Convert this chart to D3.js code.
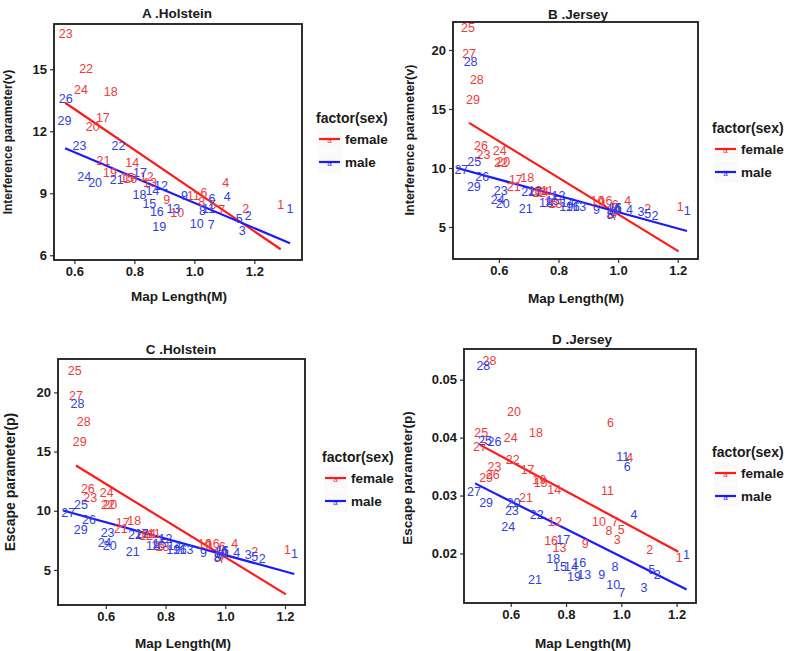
<!DOCTYPE html>
<html><head><meta charset="utf-8">
<script src="https://cdn.jsdelivr.net/npm/d3@7"></script>
<style>body{margin:0;background:#fff}svg{display:block}text{font-family:"Liberation Sans",Arial,sans-serif}</style>
</head><body>
<svg id="chart" width="787" height="651"></svg>
<script>
// ---------- DATA ----------
const xTicks = [0.6, 0.8, 1.0, 1.2];
const yTicksA = [6, 9, 12, 15];
const yTicksBC = [5, 10, 15, 20];
const yTicksD = [0.02, 0.03, 0.04, 0.05];

// Panel A (Holstein, interference) : [label, map length, value]
const femaleA = [["23",0.571,16.69],["22",0.639,15.0],["24",0.622,14.0],["18",0.721,13.9],["17",0.695,12.66],["20",0.661,12.22],
  ["21",0.697,10.56],["14",0.793,10.45],["19",0.719,9.97],["15",0.776,9.72],["16",0.786,9.68],["12",0.841,9.80],["13",0.852,9.48],
  ["9",0.908,8.68],["10",0.943,8.06],["11",0.997,8.87],["6",1.032,9.03],["8",1.025,8.6],["5",1.062,8.45],["7",1.091,8.19],
  ["4",1.105,9.51],["2",1.171,8.23],["1",1.288,8.43]];
const maleA = [["26",0.571,13.56],["29",0.567,12.5],["23",0.617,11.3],["22",0.747,11.3],["24",0.633,9.80],["20",0.669,9.48],
  ["21",0.741,9.64],["17",0.819,9.97],["14",0.86,9.13],["12",0.889,9.35],["18",0.817,8.92],["15",0.85,8.48],["16",0.875,8.08],
  ["19",0.883,7.36],["13",0.93,8.23],["9",0.967,8.87],["10",1.008,7.50],["7",1.056,7.47],["8",1.027,8.14],["11",1.047,8.23],
  ["6",1.059,8.71],["5",1.15,7.74],["3",1.16,7.18],["4",1.11,8.81],["2",1.18,7.90],["1",1.319,8.23]];
const fitFemaleA = [[0.569,13.38],[1.288,6.29]];
const fitMaleA = [[0.569,11.18],[1.319,6.58]];

// Panels B and C (Jersey)
const femaleBC = [["25",0.496,21.84],["27",0.500,19.66],["28",0.526,17.49],["29",0.513,15.80],["26",0.540,11.85],["23",0.548,11.12],
  ["24",0.603,11.48],["22",0.607,10.45],["20",0.615,10.48],["17",0.657,8.97],["18",0.695,9.14],["21",0.650,8.43],["19",0.722,8.05],
  ["14",0.745,8.0],["11",0.762,8.05],["12",0.735,7.85],["15",0.775,7.0],["13",0.79,6.95],["16",0.958,7.23],["10",0.931,7.23],
  ["9",0.945,7.0],["4",1.032,7.2],["6",0.99,6.9],["5",1.0,6.6],["3",0.985,6.3],["7",0.99,5.95],["8",0.975,6.1],["2",1.099,6.55],["1",1.208,6.72]];
const maleBC = [["28",0.505,19.02],["25",0.517,10.5],["27",0.474,9.84],["26",0.544,9.22],["29",0.516,8.37],["23",0.606,8.08],
  ["24",0.596,7.3],["20",0.613,6.99],["21",0.69,6.5],["22",0.698,7.98],["17",0.72,8.0],["18",0.758,7.05],["15",0.78,7.2],
  ["19",0.826,6.7],["16",0.848,6.7],["13",0.87,6.7],["12",0.80,7.6],["14",0.83,7.0],["11",0.99,6.6],["10",0.985,6.4],["9",0.927,6.45],
  ["8",0.973,6.0],["7",0.985,6.1],["6",1.0,6.6],["4",1.038,6.4],["3",1.077,6.27],["5",1.099,6.1],["2",1.124,5.93],["1",1.232,6.35]];
const fitFemaleBC = [[0.5,13.82],[1.203,2.94]];
const fitMaleBC = [[0.457,10.02],[1.231,4.66]];

// Panel D (Jersey, escape)
const femaleD = [["28",0.523,0.0532],["20",0.612,0.0445],["6",0.961,0.0425],["25",0.493,0.0408],["24",0.6,0.0399],["18",0.691,0.0408],
  ["27",0.489,0.0384],["22",0.607,0.0362],["17",0.661,0.0344],["23",0.541,0.0350],["26",0.535,0.0336],["29",0.511,0.0330],
  ["4",1.03,0.0365],["19",0.703,0.0327],["15",0.708,0.0322],["14",0.757,0.0310],["11",0.95,0.0307],["21",0.655,0.0295],
  ["12",0.76,0.0255],["10",0.919,0.0254],["7",0.977,0.0255],["8",0.955,0.0238],["5",1.0,0.0241],["3",0.985,0.0223],
  ["16",0.746,0.0222],["13",0.776,0.0209],["9",0.869,0.0216],["2",1.103,0.0206],["1",1.209,0.0193]];
const maleD = [["28",0.501,0.0524],["25",0.507,0.0395],["26",0.541,0.0392],["27",0.467,0.0306],["29",0.511,0.0288],["20",0.61,0.0288],
  ["23",0.604,0.0273],["22",0.694,0.0266],["24",0.591,0.0245],["17",0.79,0.0223],["18",0.754,0.0190],["15",0.778,0.0177],
  ["14",0.818,0.0176],["16",0.848,0.0183],["19",0.829,0.0159],["13",0.866,0.0163],["9",0.929,0.0163],["21",0.688,0.0154],
  ["8",0.977,0.0176],["10",0.971,0.0145],["7",1.001,0.0132],["3",1.082,0.0141],["5",1.11,0.0171],["2",1.13,0.0163],
  ["4",1.046,0.0266],["11",1.005,0.0367],["6",1.021,0.0350],["1",1.236,0.0197]];
const fitFemaleD = [[0.489,0.03875],[1.206,0.0203]];
const fitMaleD = [[0.471,0.0321],[1.236,0.01379]];

// ---------- DRAW ----------
const RED = "#ff1a1a", BLUE = "#1a1aff";
const TXT_RED = "#f23a3a", TXT_BLUE = "#3040e6";
const svg = d3.select("#chart");

function panel(c) {
  const g = svg.append("g");
  const x = d3.scaleLinear().domain(c.xDomain).range([c.left, c.right]);
  const y = d3.scaleLinear().domain(c.yDomain).range([c.bottom, c.top]);

  const xa = g.append("g").attr("transform", `translate(0,${c.bottom})`)
    .call(d3.axisBottom(x).tickValues(xTicks).tickFormat(d3.format(".1f")).tickSize(4).tickPadding(3));
  const ya = g.append("g").attr("transform", `translate(${c.left},0)`)
    .call(d3.axisLeft(y).tickValues(c.yTicks).tickFormat(c.yFmt).tickSize(4).tickPadding(3));
  [xa, ya].forEach(a => {
    a.select(".domain").remove();
    a.selectAll(".tick line").attr("stroke", "#333").attr("stroke-width", 1.2);
    a.selectAll(".tick text").attr("fill", "#1a1a1a").style("font-size", "13px").style("font-weight", "bold")
      .style("font-family", '"Liberation Sans",Arial,sans-serif');
  });

  const line = d3.line().x(d => x(d[0])).y(d => y(d[1]));
  g.append("path").attr("d", line(c.fitF)).attr("stroke", RED).attr("stroke-width", 2.2).attr("fill", "none");
  g.append("path").attr("d", line(c.fitM)).attr("stroke", BLUE).attr("stroke-width", 2.2).attr("fill", "none");

  const lab = (data, col) => g.append("g").selectAll("text").data(data).join("text")
    .attr("x", d => x(d[1])).attr("y", d => y(d[2]))
    .attr("text-anchor", "middle").attr("dominant-baseline", "central")
    .attr("fill", col).style("font-size", "12.5px").text(d => d[0]);
  lab(c.female, TXT_RED);
  lab(c.male, TXT_BLUE);

  g.append("rect").attr("x", c.left).attr("y", c.top).attr("width", c.right - c.left).attr("height", c.bottom - c.top)
    .attr("fill", "none").attr("stroke", "#1a1a1a").attr("stroke-width", 1.8);

  g.append("text").attr("x", c.titleX).attr("y", c.titleY).attr("text-anchor", "middle").attr("dominant-baseline", "central")
    .style("font-size", "13.5px").style("font-weight", "bold").attr("fill", "#1a1a1a").text(c.title);
  g.append("text").attr("x", c.xLabX).attr("y", c.xLabY).attr("text-anchor", "middle").attr("dominant-baseline", "central")
    .style("font-size", "13.5px").style("font-weight", "bold").attr("fill", "#1a1a1a").text("Map Length(M)");
  g.append("text").attr("transform", `translate(${c.yLabX},${c.yLabY}) rotate(-90)`).attr("text-anchor", "middle")
    .attr("dominant-baseline", "central").style("font-size", c.yLabSize + "px").style("font-weight", "bold")
    .attr("fill", "#1a1a1a").text(c.yLabel);

  const L = g.append("g").attr("transform", `translate(${c.legX},${c.legY})`);
  L.append("text").attr("x", 0).attr("y", 0).attr("dominant-baseline", "central").style("font-size", "14px")
    .style("font-weight", "bold").attr("fill", "#1a1a1a").text("factor(sex)");
  [["female", RED, 21], ["male", BLUE, 44]].forEach(([name, col, dy]) => {
    L.append("rect").attr("x", 2).attr("y", dy - 11).attr("width", 24).attr("height", 22).attr("fill", "#fafafa");
    L.append("line").attr("x1", 3).attr("x2", 24).attr("y1", dy).attr("y2", dy).attr("stroke", col).attr("stroke-width", 2.2);
    L.append("text").attr("x", 13.5).attr("y", dy + 1).attr("text-anchor", "middle").attr("dominant-baseline", "central")
      .style("font-size", "8px").attr("fill", col).text("a");
    L.append("text").attr("x", 29).attr("y", dy).attr("dominant-baseline", "central").style("font-size", "13.5px")
      .style("font-weight", "bold").attr("fill", "#1a1a1a").text(name);
  });
}

panel({left:54, right:302, top:24, bottom:260, xDomain:[0.532,1.359], yDomain:[5.77,17.19], yTicks:yTicksA, yFmt:d3.format("d"),
  female:femaleA, male:maleA, fitF:fitFemaleA, fitM:fitMaleA, title:"A .Holstein", titleX:177, titleY:13,
  xLabX:179, xLabY:296, yLabel:"Interference parameter(v)", yLabX:8, yLabY:142, yLabSize:12, legX:316, legY:118});

panel({left:453, right:698, top:22, bottom:259, xDomain:[0.446,1.268], yDomain:[2.29,22.37], yTicks:yTicksBC, yFmt:d3.format("d"),
  female:femaleBC, male:maleBC, fitF:fitFemaleBC, fitM:fitMaleBC, title:"B .Jersey", titleX:578, titleY:14,
  xLabX:576, xLabY:298, yLabel:"Interference parameter(v)", yLabX:410, yLabY:140, yLabSize:12.5, legX:712, legY:128});

panel({left:58, right:305, top:359, bottom:605, xDomain:[0.44,1.267], yDomain:[2.04,22.82], yTicks:yTicksBC, yFmt:d3.format("d"),
  female:femaleBC, male:maleBC, fitF:fitFemaleBC, fitM:fitMaleBC, title:"C .Holstein", titleX:181, titleY:349,
  xLabX:183, xLabY:643, yLabel:"Escape parameter(p)", yLabX:10, yLabY:482, yLabSize:14, legX:322, legY:457});

panel({left:464, right:696, top:349, bottom:603, xDomain:[0.431,1.270], yDomain:[0.01145,0.0553], yTicks:yTicksD, yFmt:d3.format(".2f"),
  female:femaleD, male:maleD, fitF:fitFemaleD, fitM:fitMaleD, title:"D .Jersey", titleX:582, titleY:339,
  xLabX:583, xLabY:643, yLabel:"Escape parameter(p)", yLabX:407, yLabY:478, yLabSize:13.5, legX:712, legY:452});
</script>
</body></html>
